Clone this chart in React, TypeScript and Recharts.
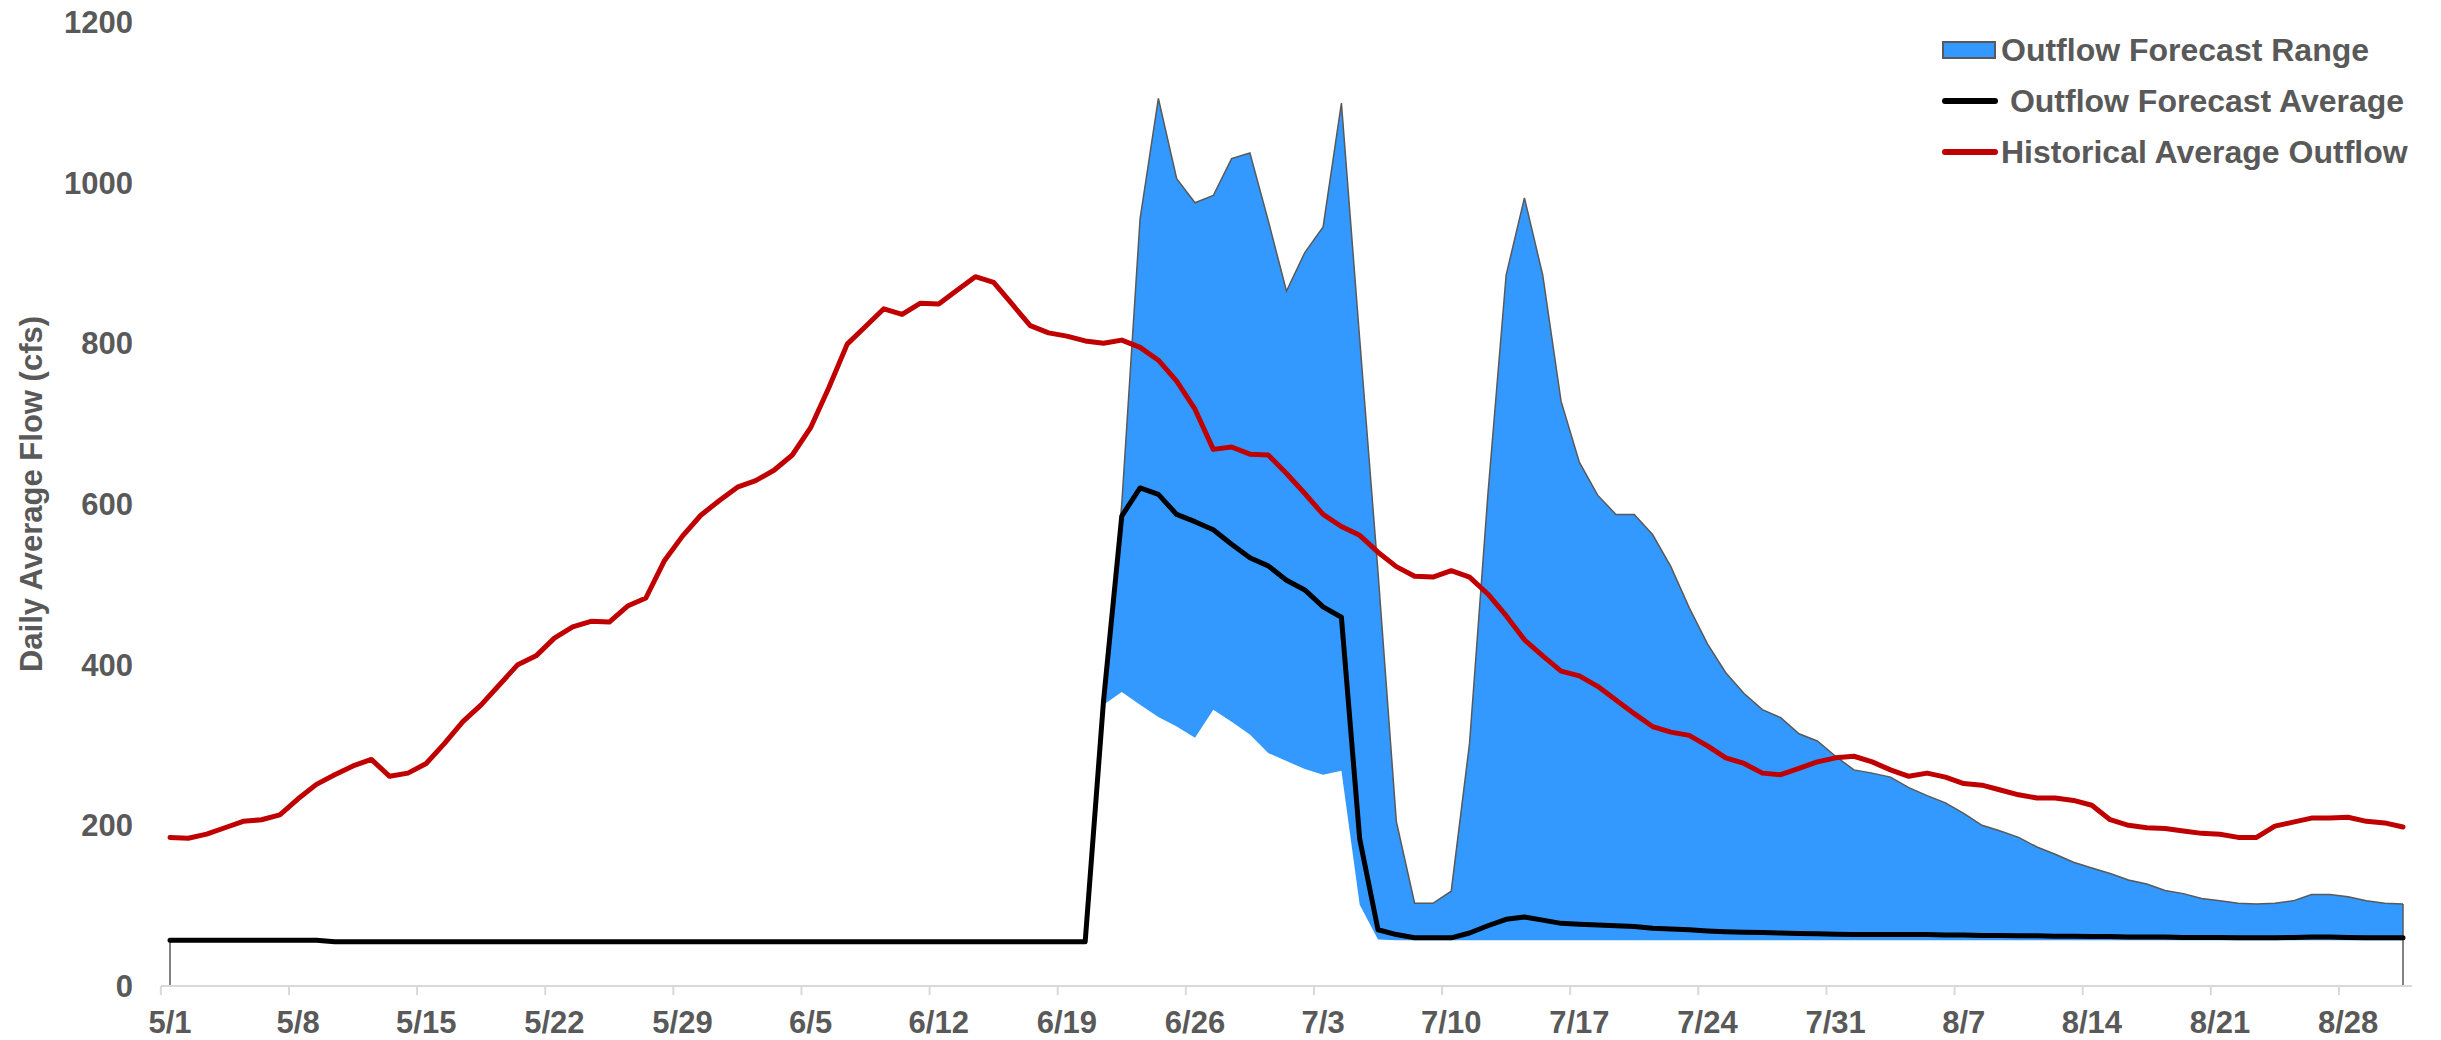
import React from "react";
import { Area, ComposedChart, Line, ReferenceLine, XAxis, YAxis } from "recharts";

const FONT = '"Liberation Sans", Arial, sans-serif';
const TEXT = "#595959";

// daily categories 5/1 .. 8/31
const monthDays = [
  { month: 5, days: 31 },
  { month: 6, days: 30 },
  { month: 7, days: 31 },
  { month: 8, days: 31 },
];
const dates: string[] = [];
monthDays.forEach(({ month, days }) => {
  for (let d = 1; d <= days; d++) dates.push(`${month}/${d}`);
});

const xTicks = [
  "5/1", "5/8", "5/15", "5/22", "5/29", "6/5", "6/12", "6/19", "6/26",
  "7/3", "7/10", "7/17", "7/24", "7/31", "8/7", "8/14", "8/21", "8/28",
];
const yTicks = [0, 200, 400, 600, 800, 1000, 1200];

const historical = [
  185, 184, 189, 197, 205, 207, 213, 233, 251, 263,
  274, 282, 261, 265, 277, 302, 329, 350, 375, 400,
  411, 433, 447, 454, 453, 473, 483, 529, 560, 586,
  604, 621, 629, 642, 661, 695, 745, 799, 821, 843,
  836, 850, 849, 866, 883, 876, 849, 822, 813, 809,
  803, 800, 804, 795, 779, 753, 718, 668, 671, 662,
  661, 638, 613, 587, 572, 561, 540, 522, 510, 509,
  517, 509, 488, 461, 431, 411, 392, 386, 373, 356,
  339, 323, 316, 312, 299, 284, 277, 265, 263, 271,
  279, 284, 286, 279, 269, 261, 265, 260, 252, 250,
  244, 238, 234, 234, 231, 225, 207, 200, 197, 196,
  193, 190, 189, 185, 185, 199, 204, 209, 209, 210,
  205, 203, 198,
];

const forecastAvg = [
  57, 57, 57, 57, 57, 57, 57, 57, 57, 55,
  55, 55, 55, 55, 55, 55, 55, 55, 55, 55,
  55, 55, 55, 55, 55, 55, 55, 55, 55, 55,
  55, 55, 55, 55, 55, 55, 55, 55, 55, 55,
  55, 55, 55, 55, 55, 55, 55, 55, 55, 55,
  55, 354, 585, 620, 612, 587, 578, 568, 550, 533,
  523, 505, 493, 472, 459, 183, 70, 64, 60, 60,
  60, 66, 75, 83, 86, 82, 78, 77, 76, 75,
  74, 72, 71, 70, 68.5, 67.5, 67, 66.5, 66, 65.5,
  65, 64.5, 64, 64, 64, 64, 64, 63.5, 63.5, 63,
  63, 62.5, 62.5, 62, 62, 61.5, 61.5, 61, 61, 61,
  60.5, 60.5, 60.5, 60, 60, 60, 60.5, 61, 61, 60.5,
  60, 60, 60,
];

// forecast range begins on 6/21
const rangeStart = 51;
const forecastLow = [
  350, 366, 350, 335, 323, 309, 344, 329, 313, 290,
  280, 270, 263, 268, 101, 58, 57, 57, 57, 57,
  57, 57, 57, 57, 57, 57, 57, 57, 57, 57,
  57, 57, 57, 57, 57, 57, 57, 57, 57, 57,
  57, 57, 57, 57, 57, 57, 57, 57, 57, 57,
  57, 57, 57, 57, 57, 57, 57, 57, 57, 57,
  57, 57, 57, 57, 57, 57, 57, 57, 57, 57,
  57, 57,
];
const forecastHigh = [
  358, 600, 955, 1105, 1005, 975, 984, 1030, 1037, 953,
  865, 913, 945, 1099, 805, 515, 205, 103, 103, 118,
  302, 611, 885, 981, 885, 728, 652, 611, 587, 587,
  562, 522, 471, 426, 390, 364, 344, 334, 314, 305,
  286, 269, 265, 260, 247, 237, 228, 215, 200, 193,
  185, 173, 164, 154, 147, 140, 132, 127, 119, 115,
  109, 106, 103, 102, 103, 106, 114, 114, 111, 106,
  103, 102,
];

const legendItems = [
  { label: "Outflow Forecast Range", kind: "box", color: "#3399ff" },
  { label: " Outflow Forecast Average", kind: "line", color: "#000000" },
  { label: "Historical Average Outflow", kind: "line", color: "#c00000" },
];

const chartData = dates.map((date, i) => {
  const k = i - rangeStart;
  const inRange = k >= 0 && k < forecastHigh.length;
  return {
    date,
    historical: historical[i],
    average: forecastAvg[i],
    high: inRange ? forecastHigh[k] : null,
    range: inRange ? [forecastLow[k], forecastHigh[k]] : null,
  };
});

function DateTick(props: any) {
  const { x, y, payload } = props;
  const half = 9.15;
  return (
    <g>
      <line x1={x - half} x2={x - half} y1={y} y2={y + 9} stroke="#d9d9d9" strokeWidth={2} />
      <text
        x={x}
        y={y + 47}
        textAnchor="middle"
        fill={TEXT}
        fontSize={31}
        fontWeight="bold"
        fontFamily={FONT}
      >
        {payload.value}
      </text>
    </g>
  );
}

function Overlay() {
  return (
    <svg
      width={2441}
      height={1040}
      style={{ position: "absolute", left: 0, top: 0, pointerEvents: "none" }}
    >
      <text
        x={42}
        y={494}
        transform="rotate(-90, 42, 494)"
        textAnchor="middle"
        fill={TEXT}
        fontSize={31}
        fontWeight="bold"
        fontFamily={FONT}
      >
        Daily Average Flow (cfs)
      </text>
      {legendItems.map((item, i) => {
        const cy = 50 + i * 51;
        return (
          <g key={item.label}>
            {item.kind === "box" ? (
              <rect x={1943} y={cy - 8} width={52} height={16} fill={item.color} stroke={TEXT} strokeWidth={2} />
            ) : (
              <line x1={1945} x2={1995} y1={cy} y2={cy} stroke={item.color} strokeWidth={6} strokeLinecap="round" />
            )}
            <text
              x={2001}
              y={cy + 11}
              fill={TEXT}
              fontSize={32}
              fontWeight="bold"
              fontFamily={FONT}
              style={{ whiteSpace: "pre" }}
            >
              {item.label}
            </text>
          </g>
        );
      })}
    </svg>
  );
}

export default function App() {
  const last = dates[dates.length - 1];
  return (
    <div style={{ position: "absolute", left: 0, top: 0, width: 2441, height: 1040, background: "#fff" }}>
      <ComposedChart
        width={2441}
        height={1040}
        data={chartData}
        margin={{ top: 22, right: 29, bottom: 0, left: 0 }}
      >
        <XAxis
          dataKey="date"
          ticks={xTicks}
          interval={0}
          padding={{ left: 9, right: 9 }}
          axisLine={{ stroke: "#d9d9d9", strokeWidth: 2 }}
          tickLine={false}
          tickSize={0}
          tickMargin={0}
          tick={<DateTick />}
          height={54}
        />
        <YAxis
          domain={[0, 1200]}
          ticks={yTicks}
          interval={0}
          width={161}
          axisLine={false}
          tickLine={false}
          tickSize={0}
          tickMargin={28}
          tick={{ fill: TEXT, fontSize: 31, fontWeight: "bold", fontFamily: FONT }}
        />
        <Area
          type="linear"
          dataKey="range"
          fill="#3399ff"
          fillOpacity={1}
          stroke="none"
          activeDot={false}
          isAnimationActive={false}
        />
        <Line
          type="linear"
          dataKey="high"
          stroke="#595959"
          strokeWidth={1.5}
          dot={false}
          activeDot={false}
          isAnimationActive={false}
        />
        <ReferenceLine
          segment={[{ x: dates[0], y: 0 }, { x: dates[0], y: forecastAvg[0] }]}
          stroke="#595959"
          strokeWidth={1.5}
        />
        <ReferenceLine
          segment={[{ x: last, y: 0 }, { x: last, y: forecastHigh[forecastHigh.length - 1] }]}
          stroke="#595959"
          strokeWidth={1.5}
        />
        <Line
          type="linear"
          dataKey="average"
          stroke="#000000"
          strokeWidth={5}
          strokeLinecap="round"
          strokeLinejoin="round"
          dot={false}
          activeDot={false}
          isAnimationActive={false}
        />
        <Line
          type="linear"
          dataKey="historical"
          stroke="#c00000"
          strokeWidth={5}
          strokeLinecap="round"
          strokeLinejoin="round"
          dot={false}
          activeDot={false}
          isAnimationActive={false}
        />
      </ComposedChart>
      <Overlay />
    </div>
  );
}
